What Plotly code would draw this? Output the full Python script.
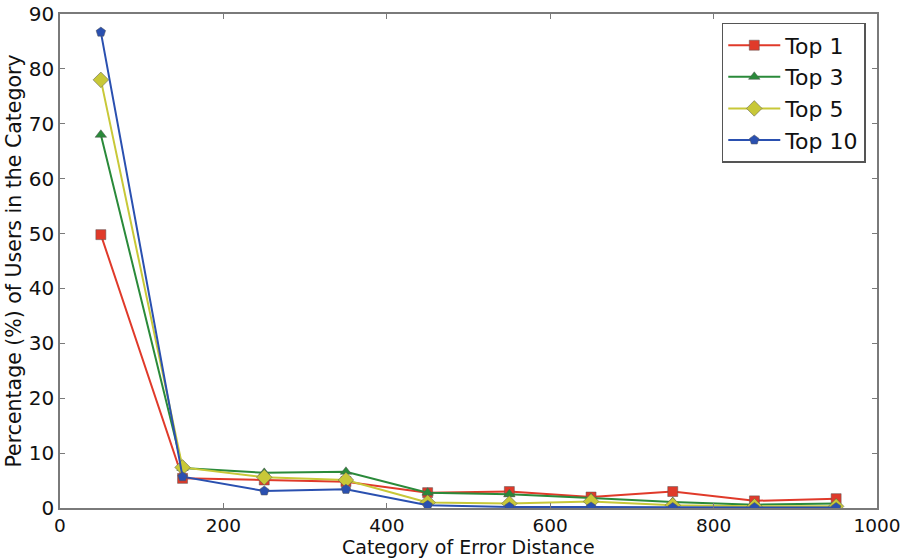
import plotly.graph_objects as go

categories = [50, 150, 250, 350, 450, 550, 650, 750, 850, 950]
top1 = [49.8, 5.4, 5.1, 4.8, 2.8, 3.0, 2.0, 3.0, 1.3, 1.7]
top3 = [68.0, 7.3, 6.4, 6.6, 2.8, 2.5, 1.8, 1.1, 0.6, 0.8]
top5 = [78.0, 7.4, 5.6, 5.1, 1.0, 0.8, 1.2, 0.5, 0.3, 0.3]
top10 = [86.7, 5.7, 3.1, 3.4, 0.5, 0.2, 0.2, 0.1, 0.1, 0.1]

series = [
    ("Top 1", top1, "#e03a2a", "square", 10),
    ("Top 3", top3, "#2a8a3a", "triangle-up", 10),
    ("Top 5", top5, "#c8c838", "diamond", 12),
    ("Top 10", top10, "#2a50b0", "pentagon", 10),
]

fig = go.Figure()
for name, vals, col, sym, sz in series:
    fig.add_trace(go.Scatter(
        x=categories, y=vals, name=name, mode="lines+markers",
        line=dict(color=col, width=2),
        marker=dict(symbol=sym, size=sz, color=col, line=dict(color="#555555", width=0.5)),
    ))

axis_common = dict(
    showline=True, linecolor="#7a7a7a", linewidth=1.5, mirror="ticks",
    ticks="inside", ticklen=5, tickcolor="#7a7a7a", showgrid=False, zeroline=False,
    automargin=False,
)

fig.update_layout(
    width=908, height=560,
    margin=dict(l=60, r=31, t=14, b=52),
    paper_bgcolor="white", plot_bgcolor="white",
    font=dict(family="DejaVu Sans", size=20, color="#111111"),
    xaxis=dict(range=[0, 1000], tickvals=[0, 200, 400, 600, 800, 1000],
               tickfont=dict(family="DejaVu Sans", size=18.5, color="#111111"),
               **axis_common),
    yaxis=dict(range=[0, 90], tickvals=[0, 10, 20, 30, 40, 50, 60, 70, 80, 90],
               tickfont=dict(family="DejaVu Sans", size=20, color="#111111"),
               title=dict(text="Percentage (%) of Users in the Category", standoff=2,
                          font=dict(size=20.5)), **axis_common),
    legend=dict(x=0.810, y=0.982, xanchor="left", yanchor="top",
                bordercolor="#555555", borderwidth=1.5, bgcolor="white",
                font=dict(size=22), itemwidth=52, tracegroupgap=0),
    annotations=[dict(text="Category of Error Distance", xref="paper", yref="paper",
                      x=0.5, y=-0.0788, xanchor="center", yanchor="middle",
                      showarrow=False, font=dict(size=19, color="#111111"))],
)

fig.write_html("out.html")
